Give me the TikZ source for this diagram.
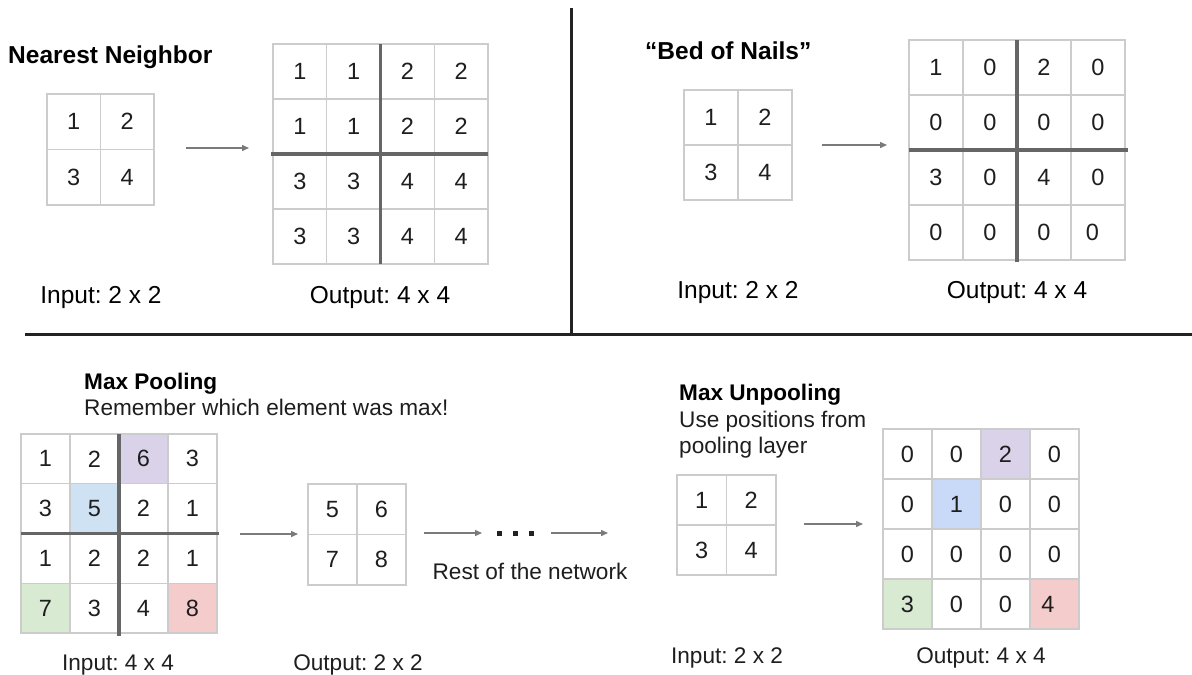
\documentclass[tikz,border=0pt]{standalone}
\usepackage{fontspec}
\setmainfont{Liberation Sans}
\usetikzlibrary{arrows.meta}
\frenchspacing

\definecolor{gridline}{HTML}{CCCCCC}
\definecolor{splitgray}{HTML}{666666}
\definecolor{rulecol}{HTML}{222222}
\definecolor{arrowgray}{HTML}{7A7A7A}
\definecolor{digitcol}{HTML}{1E1E1E}
\definecolor{cpurple}{HTML}{D9D2E9}
\definecolor{cblue}{HTML}{CFE2F3}
\definecolor{cblueb}{HTML}{C9DAF8}
\definecolor{cgreen}{HTML}{D9EAD3}
\definecolor{cred}{HTML}{F4CCCC}

% #1 name, #2 columns, #3/#4 top-left corner, #5/#6 cell width/height, #7 value/fill list
\newcommand\cellgrid[7]{%
  \foreach \v/\cf [count=\k from 0] in {#7} {%
    \pgfmathtruncatemacro\gr{\k/#2}%
    \pgfmathtruncatemacro\gq{mod(\k,#2)}%
    \node[cell, fill=\cf, minimum width=#5pt, minimum height=#6pt]
      (#1-\gr-\gq) at ({#3+(\gq+0.5)*#5},{#4+(\gr+0.5)*#6}) {\v};
  }}

\tikzset{
  cell/.style={draw=gridline, line width=1.3pt, inner sep=0pt, outer sep=0pt,
    text=digitcol, font=\fontsize{23.5}{27}\selectfont},
  splitline/.style={draw=splitgray, line width=3.5pt},
  ruleline/.style={draw=rulecol, line width=3pt},
  arr/.style={draw=arrowgray, line width=1.4pt, -{Triangle[length=7pt,width=6pt]}},
  heading/.style={anchor=base west, inner sep=0pt, text=black,
    font=\frenchspacing\bfseries\fontsize{24.5}{28}\selectfont},
  subheading/.style={anchor=base west, inner sep=0pt, text=black,
    font=\frenchspacing\bfseries\fontsize{22.6}{26}\selectfont},
  note/.style={anchor=base west, inner sep=0pt, text=digitcol,
    font=\frenchspacing\fontsize{22.6}{26}\selectfont},
  biglabel/.style={anchor=base, inner sep=0pt, text=black,
    font=\frenchspacing\fontsize{24.5}{28}\selectfont},
  label/.style={anchor=base, inner sep=0pt, text=digitcol,
    font=\frenchspacing\fontsize{22.6}{26}\selectfont},
  dot/.style={rectangle, fill=rulecol, minimum size=5pt, inner sep=0pt},
}

\begin{document}
\frenchspacing
\begin{tikzpicture}[x=1pt, y=-1pt]
\useasboundingbox (0,0) rectangle (1192,675);
\fill[white] (0,0) rectangle (1192,675);

% section rules
\coordinate (vtop) at (571,8);
\coordinate (vbot) at (571,334);
\coordinate (hleft) at (25,334);
\coordinate (hright) at (1192,334);
\draw[ruleline] (vtop) -- (vbot);
\draw[ruleline] (hleft) -- (hright);

% ---------- Nearest Neighbor ----------
\node[heading] (nntitle) at (8,63) {Nearest Neighbor};
\cellgrid{nns}{2}{47}{94}{53.5}{55.5}{1/white,2/white,3/white,4/white}
\cellgrid{nnb}{4}{273}{44}{53.75}{55}{1/white,1/white,2/white,2/white,
  1/white,1/white,2/white,2/white,
  3/white,3/white,4/white,4/white,
  3/white,3/white,4/white,4/white}
\draw[splitline] (nnb-0-1.north east) -- (nnb-3-1.south east);
\draw[splitline] ([xshift=-2pt]nnb-1-0.south west) -- (nnb-1-3.south east);
\coordinate (nna1) at (186,148);
\coordinate (nna2) at (249,148);
\draw[arr] (nna1) -- (nna2);
\node[biglabel] (nnin) at (101,303) {Input: 2 x 2};
\node[biglabel] (nnout) at (380,303) {Output: 4 x 4};

% ---------- Bed of Nails ----------
\node[heading] (bntitle) at (645,59) {“Bed of Nails”};
\cellgrid{bns}{2}{684}{90}{54}{55}{1/white,2/white,3/white,4/white}
\cellgrid{bnb}{4}{909}{40}{54}{55}{1/white,0/white,2/white,0/white,
  0/white,0/white,0/white,0/white,
  3/white,0/white,4/white,0/white,
  0/white,0/white,0/white,{\hspace*{-11pt}0}/white}
\draw[splitline] (bnb-0-1.north east) -- ([yshift=-2pt]bnb-3-1.south east);
\draw[splitline] (bnb-1-0.south west) -- ([xshift=3pt]bnb-1-3.south east);
\coordinate (bna1) at (822,145);
\coordinate (bna2) at (887,145);
\draw[arr] (bna1) -- (bna2);
\node[biglabel] (bnin) at (738,298) {Input: 2 x 2};
\node[biglabel] (bnout) at (1017,298) {Output: 4 x 4};

% ---------- Max Pooling ----------
\node[subheading] (mptitle) at (84,389) {Max Pooling};
\node[note] (mpnote) at (84,415) {Remember which element was max!};
\cellgrid{mpb}{4}{21}{434}{49}{49.75}{1/white,2/white,6/cpurple,3/white,
  3/white,5/cblue,2/white,1/white,
  1/white,2/white,2/white,1/white,
  7/cgreen,3/white,4/white,8/cred}
\draw[splitline] (mpb-0-1.north east) -- ([yshift=-3pt]mpb-3-1.south east);
\draw[splitline] (mpb-1-0.south west) -- ([xshift=2pt]mpb-1-3.south east);
\coordinate (mpa1) at (240,534);
\coordinate (mpa2) at (298,534);
\draw[arr] (mpa1) -- (mpa2);
\cellgrid{mps}{2}{308}{484}{49}{50.5}{5/white,6/white,7/white,8/white}
\node[dot] (d1) at (499,533) {};
\node[dot] (d2) at (515,533) {};
\node[dot] (d3) at (531,533) {};
\coordinate (mpb1) at (424,533);
\coordinate (mpb2) at (482,533);
\draw[arr] (mpb1) -- (mpb2);
\coordinate (mpc1) at (551,533);
\coordinate (mpc2) at (608,533);
\draw[arr] (mpc1) -- (mpc2);
\node[label] (rest) at (530,579) {Rest of the network};
\node[label] (mpin) at (118,670) {Input: 4 x 4};
\node[label] (mpout) at (358,670) {Output: 2 x 2};

% ---------- Max Unpooling ----------
\node[subheading] (mutitle) at (679,400) {Max Unpooling};
\node[note] (munote1) at (679,427) {Use positions from};
\node[note] (munote2) at (679,453) {pooling layer};
\cellgrid{mus}{2}{677}{475}{49.5}{50}{1/white,2/white,3/white,4/white}
\coordinate (mua1) at (804,524);
\coordinate (mua2) at (863,524);
\draw[arr] (mua1) -- (mua2);
\cellgrid{mub}{4}{883}{429}{49}{50}{0/white,0/white,2/cpurple,0/white,
  0/white,1/cblueb,0/white,0/white,
  0/white,0/white,0/white,0/white,
  3/cgreen,0/white,0/white,{\hspace*{-13pt}4}/cred}
\node[label] (muin) at (727,663) {Input: 2 x 2};
\node[label] (muout) at (981,663) {Output: 4 x 4};
\end{tikzpicture}
\end{document}
